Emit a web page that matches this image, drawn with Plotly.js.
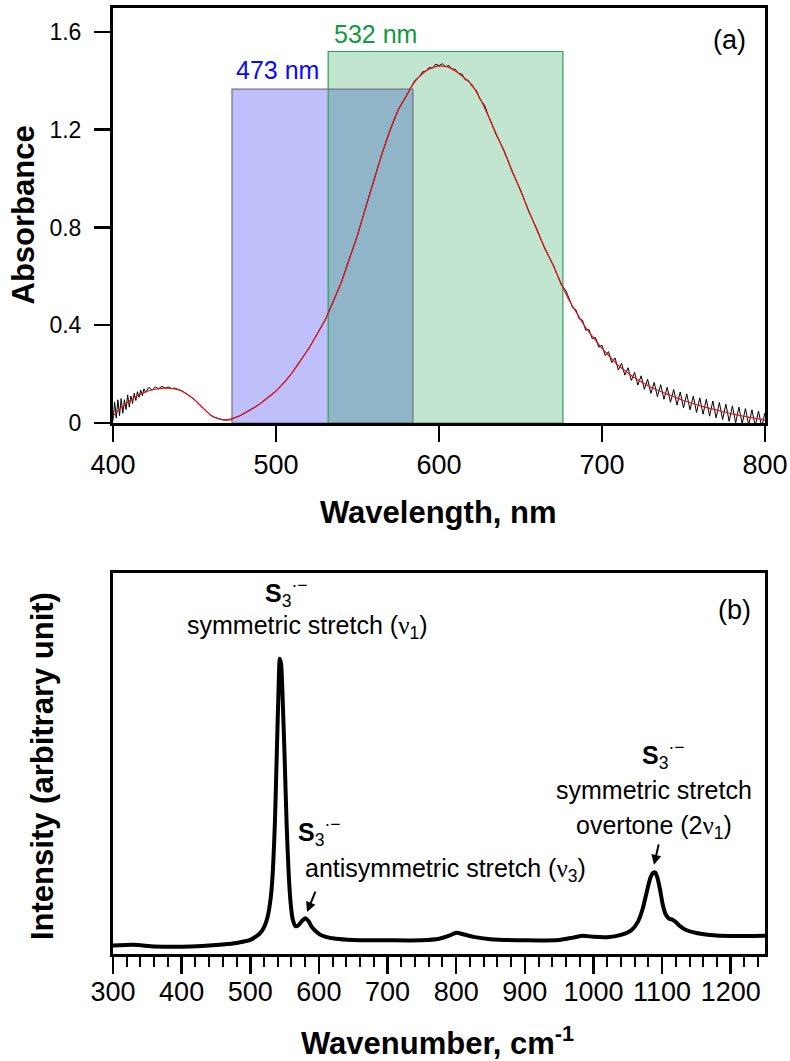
<!DOCTYPE html>
<html>
<head>
<meta charset="utf-8">
<script src="https://cdn.plot.ly/plotly-3.0.1.min.js"></script>
<style>html,body{margin:0;padding:0;background:#fff;}#chart{width:790px;height:1061px;}</style>
</head>
<body>
<div id="chart"></div>
<script>
// ---------- Panel (a): absorbance ----------
const wlRaw = [400,401,402,403,404,405,406,407,408,409,410,411,412,413,414,415,416,417,418,419,420,422,424,426,428,430,432,434,436,438,440,442,444,446,448,450,452,454,456,458,460,462,464,466,468,470,472,474,476,478,480,485,490,495,500,505,510,515,520,525,530,535,540,545,550,555,560,565,570,575,580,583,585,588,590,592,594,596,598,600,602,604,606,608,610,612,614,616,618,620,623,625,628,630,635,640,645,650,655,660,665,670,675,678,
680,682,684,686,688,690,692,694,696,698,700,702,704,706,708,710,712,714,716,718,720,722,724,726,728,730,732,734,736,738,740,742,744,746,748,750,752,754,756,758,760,762,764,766,768,770,772,774,776,778,780,782,784,786,788,790,792,794,796,798,800];
const absRaw = [0.010,0.085,0.020,0.095,0.030,0.100,0.040,0.095,0.055,0.115,0.065,0.110,0.080,0.122,0.092,0.128,0.105,0.135,0.112,0.140,0.125,0.146,0.134,0.148,0.140,0.150,0.143,0.147,0.141,0.143,0.137,0.133,0.124,0.115,0.108,0.096,0.083,0.070,0.054,0.043,0.031,0.024,0.018,0.015,0.012,0.014,0.013,0.020,0.024,0.030,0.038,0.057,0.077,0.105,0.130,0.167,0.206,0.256,0.303,0.362,0.419,0.496,0.574,0.672,0.768,0.882,0.988,1.102,1.197,1.283,1.338,1.372,1.400,1.418,1.437,1.440,1.455,1.452,1.468,1.462,1.470,1.458,1.463,1.448,1.447,1.430,1.428,1.405,1.402,1.380,1.360,1.326,1.300,1.262,1.180,1.114,1.026,0.954,0.866,0.794,0.712,0.648,0.566,0.540,
0.506,0.472,0.463,0.426,0.421,0.380,0.383,0.345,0.350,0.310,0.318,0.276,0.292,0.247,0.266,0.217,0.244,0.196,0.226,0.174,0.207,0.155,0.193,0.138,0.179,0.121,0.166,0.108,0.157,0.097,0.146,0.085,0.137,0.073,0.127,0.062,0.119,0.054,0.110,0.043,0.103,0.036,0.097,0.028,0.090,0.021,0.084,0.014,0.077,0.007,0.070,0.001,0.065,-0.003,0.059,-0.008,0.054,-0.013,0.049,-0.016,0.042];

const wlFit = [400,405,410,415,420,425,430,435,440,445,450,455,460,465,470,475,480,485,490,495,500,505,510,515,520,525,530,535,540,545,550,555,560,565,570,575,580,585,590,595,600,605,610,615,620,625,630,635,640,645,650,655,660,665,670,675,680,685,690,695,700,705,710,715,720,725,730,735,740,745,750,755,760,765,770,775,780,785,790,795,800];
const absFit = [0.028,0.062,0.090,0.112,0.127,0.137,0.142,0.142,0.136,0.120,0.095,0.062,0.032,0.017,0.013,0.022,0.037,0.056,0.078,0.103,0.131,0.165,0.207,0.254,0.305,0.360,0.420,0.495,0.575,0.670,0.770,0.880,0.990,1.100,1.200,1.280,1.340,1.395,1.430,1.452,1.460,1.458,1.440,1.415,1.385,1.330,1.260,1.185,1.110,1.030,0.950,0.870,0.790,0.715,0.645,0.570,0.500,0.445,0.390,0.347,0.305,0.270,0.235,0.210,0.185,0.165,0.146,0.132,0.118,0.105,0.092,0.081,0.071,0.062,0.054,0.045,0.037,0.030,0.024,0.018,0.012];

// laser bands: [start, end, height]
const laserNames = ['473 nm', '532 nm'];
const laserStart = [473, 532];
const laserEnd = [584, 676];
const laserTop = [1.366, 1.52];

// ---------- Panel (b): Raman ----------
const wn = [300,330,360,400,430,460,480,500,510,515,520,525,530,533,536,539,541,543,545,547,550,553,556,559,562,566,570,575,580,585,590,600,610,625,650,700,750,775,790,800,810,825,850,900,950,970,985,1000,1020,1040,1055,1065,1072,1078,1083,1087,1090,1093,1097,1101,1105,1110,1115,1120,1125,1135,1150,1170,1200,1250];
const intensity = [2.2,2.4,2.0,1.9,2.1,2.5,2.9,3.7,4.8,5.6,7.0,9.5,15,22,35,55,68,77.5,76,68,52,34,21,13,9.0,7.3,7.5,8.6,9.4,8.6,7.0,5.3,4.5,4.0,3.7,3.6,3.6,4.0,4.8,5.6,5.2,4.5,3.9,3.6,3.7,4.3,4.8,4.5,4.4,5.0,6.2,8.5,12,16.5,20,21.3,21.4,20.2,17,13,10.5,9.3,9.0,8.4,7.5,6.3,5.5,5.0,4.7,4.8];

const xTicksA = [400,500,600,700,800];
const yTicksA = [0,0.4,0.8,1.2,1.6];
const yTickTextA = ['0','0.4','0.8','1.2','1.6'];
const xTicksB = [300,400,500,600,700,800,900,1000,1100,1200];

const FONT = 'Liberation Sans, Arial, Helvetica, sans-serif';
const nu = '<span style="font-family:\'Liberation Serif\',serif">ν</span>';
const S3 = '<b>S</b><sub>3</sub><sup>·−</sup>';

const traces = [
  {x: wlRaw, y: absRaw, type: 'scatter', mode: 'lines', line: {color: '#000', width: 1}, xaxis: 'x', yaxis: 'y', hoverinfo: 'skip'},
  {x: wlFit, y: absFit, type: 'scatter', mode: 'lines', line: {color: '#e8141e', width: 1.2, shape: 'spline', smoothing: 0.8}, xaxis: 'x', yaxis: 'y', hoverinfo: 'skip'},
  {x: wn, y: intensity, type: 'scatter', mode: 'lines', line: {color: '#000', width: 4, shape: 'spline', smoothing: 0.6}, xaxis: 'x2', yaxis: 'y2', hoverinfo: 'skip'}
];

const blueFill = '#bfbffc', greenFill = '#c2e5d0', overlapFill = '#90b5c9';
const blueLine = '#707080', greenLine = '#26a055';

const shapes = [
  {type: 'rect', xref: 'x', yref: 'y', x0: laserStart[0], x1: laserEnd[0], y0: 0, y1: laserTop[0], fillcolor: blueFill, line: {width: 0}, layer: 'below'},
  {type: 'rect', xref: 'x', yref: 'y', x0: laserStart[1], x1: laserEnd[1], y0: 0, y1: laserTop[1], fillcolor: greenFill, line: {width: 0}, layer: 'below'},
  {type: 'rect', xref: 'x', yref: 'y', x0: laserStart[1], x1: laserEnd[0], y0: 0, y1: laserTop[0], fillcolor: overlapFill, line: {width: 0}, layer: 'below'},
  {type: 'rect', xref: 'x', yref: 'y', x0: laserStart[1], x1: laserEnd[1], y0: 0, y1: laserTop[1], fillcolor: 'rgba(0,0,0,0)', line: {color: greenLine, width: 1.2}, layer: 'below'},
  {type: 'rect', xref: 'x', yref: 'y', x0: laserStart[0], x1: laserEnd[0], y0: 0, y1: laserTop[0], fillcolor: 'rgba(0,0,0,0)', line: {color: blueLine, width: 1.2}, layer: 'below'}
];

const ann = [
  // panel (a)
  {xref: 'x', yref: 'y', x: laserStart[0], y: laserTop[0], xshift: 2, yshift: 3, xanchor: 'left', yanchor: 'bottom', text: laserNames[0], showarrow: false, font: {family: FONT, size: 25, color: '#0a0aff'}},
  {xref: 'x', yref: 'y', x: laserStart[1], y: laserTop[1], xshift: 4, yshift: 1, xanchor: 'left', yanchor: 'bottom', text: laserNames[1], showarrow: false, font: {family: FONT, size: 25, color: '#109a40'}},
  {xref: 'x', yref: 'y', x: 778.5, y: 1.567, xanchor: 'center', yanchor: 'middle', text: '(a)', showarrow: false, font: {family: FONT, size: 27, color: '#000'}},
  // axis titles
  {xref: 'paper', yref: 'paper', x: 23/790, y: 1 - 215.5/1061, xanchor: 'center', yanchor: 'middle', text: '<b>Absorbance</b>', textangle: -90, showarrow: false, font: {family: FONT, size: 31, color: '#000'}},
  {xref: 'paper', yref: 'paper', x: 439/790, y: 1 - 512/1061, xanchor: 'center', yanchor: 'middle', text: '<b>Wavelength, nm</b>', showarrow: false, font: {family: FONT, size: 31, color: '#000'}},
  {xref: 'paper', yref: 'paper', x: 42/790, y: 1 - 766/1061, xanchor: 'center', yanchor: 'middle', text: '<b>Intensity (arbitrary unit)</b>', textangle: -90, showarrow: false, font: {family: FONT, size: 31, color: '#000'}},
  {xref: 'paper', yref: 'paper', x: 438/790, y: 1 - 1041/1061, xanchor: 'center', yanchor: 'middle', text: '<b>Wavenumber, cm<sup>-1</sup></b>', showarrow: false, font: {family: FONT, size: 31, color: '#000'}},
  // panel (b)
  {xref: 'x2', yref: 'y2', x: 1206, y: 90.3, xanchor: 'center', yanchor: 'middle', text: '(b)', showarrow: false, font: {family: FONT, size: 27, color: '#000'}},
  {xref: 'x2', yref: 'y2', x: 552, y: 94.8, xanchor: 'center', yanchor: 'middle', text: S3, showarrow: false, font: {family: FONT, size: 25, color: '#000'}},
  {xref: 'x2', yref: 'y2', x: 582.7, y: 85.8, xanchor: 'center', yanchor: 'middle', text: 'symmetric stretch (' + nu + '<sub>1</sub>)', showarrow: false, font: {family: FONT, size: 25, color: '#000'}},
  {xref: 'x2', yref: 'y2', x: 600, y: 32.0, xanchor: 'center', yanchor: 'middle', text: S3, showarrow: false, font: {family: FONT, size: 25, color: '#000'}},
  {xref: 'x2', yref: 'y2', x: 785, y: 22.0, xanchor: 'center', yanchor: 'middle', text: 'antisymmetric stretch (' + nu + '<sub>3</sub>)', showarrow: false, font: {family: FONT, size: 25, color: '#000'}},
  {xref: 'x2', yref: 'y2', x: 1101, y: 52.2, xanchor: 'center', yanchor: 'middle', text: S3, showarrow: false, font: {family: FONT, size: 25, color: '#000'}},
  {xref: 'x2', yref: 'y2', x: 1088, y: 43.0, xanchor: 'center', yanchor: 'middle', text: 'symmetric stretch', showarrow: false, font: {family: FONT, size: 25, color: '#000'}},
  {xref: 'x2', yref: 'y2', x: 1088, y: 33.3, xanchor: 'center', yanchor: 'middle', text: 'overtone (2' + nu + '<sub>1</sub>)', showarrow: false, font: {family: FONT, size: 25, color: '#000'}},
  {xref: 'x2', yref: 'y2', x: 582.7, y: 11.0, ax: 9, ay: -22, text: '', showarrow: true, arrowhead: 2, arrowsize: 1, arrowwidth: 2, arrowcolor: '#000', standoff: 0},
  {xref: 'x2', yref: 'y2', x: 1088.3, y: 23.4, ax: 5, ay: -22, text: '', showarrow: true, arrowhead: 2, arrowsize: 1, arrowwidth: 2, arrowcolor: '#000', standoff: 0}
];

const axCommon = {showline: true, linecolor: '#000', linewidth: 3, mirror: true, showgrid: false, zeroline: false, ticks: 'outside', tickcolor: '#000', tickwidth: 2.5, ticklen: 16, fixedrange: true};

const layout = {
  width: 790, height: 1061,
  margin: {l: 0, r: 0, t: 0, b: 0},
  paper_bgcolor: '#fff', plot_bgcolor: '#fff',
  showlegend: false,
  font: {family: FONT, color: '#000'},
  xaxis: Object.assign({}, axCommon, {domain: [113/790, 765/790], anchor: 'y', range: [400, 800], tickmode: 'array', tickvals: xTicksA, tickfont: {family: FONT, size: 27}, ticklabelstandoff: 0}),
  yaxis: Object.assign({}, axCommon, {domain: [1 - 423/1061, 1 - 8/1061], anchor: 'x', range: [0, 1.698], tickmode: 'array', tickvals: yTicksA, ticktext: yTickTextA, tickfont: {family: FONT, size: 23}, ticklabelstandoff: 8}),
  xaxis2: Object.assign({}, axCommon, {domain: [113/790, 765/790], anchor: 'y2', range: [300, 1250], tickmode: 'array', tickvals: xTicksB, ticklen: 17, tickfont: {family: FONT, size: 27}, ticklabelstandoff: -5,
    minor: {dtick: 20, tick0: 300, ticks: 'outside', ticklen: 10, tickwidth: 2, tickcolor: '#000', showgrid: false}}),
  yaxis2: Object.assign({}, axCommon, {domain: [1 - 954/1061, 1 - 573/1061], anchor: 'x2', range: [0, 100], ticks: '', showticklabels: false}),
  shapes: shapes,
  annotations: ann
};

Plotly.newPlot('chart', traces, layout, {staticPlot: true, displayModeBar: false});
</script>
</body>
</html>
